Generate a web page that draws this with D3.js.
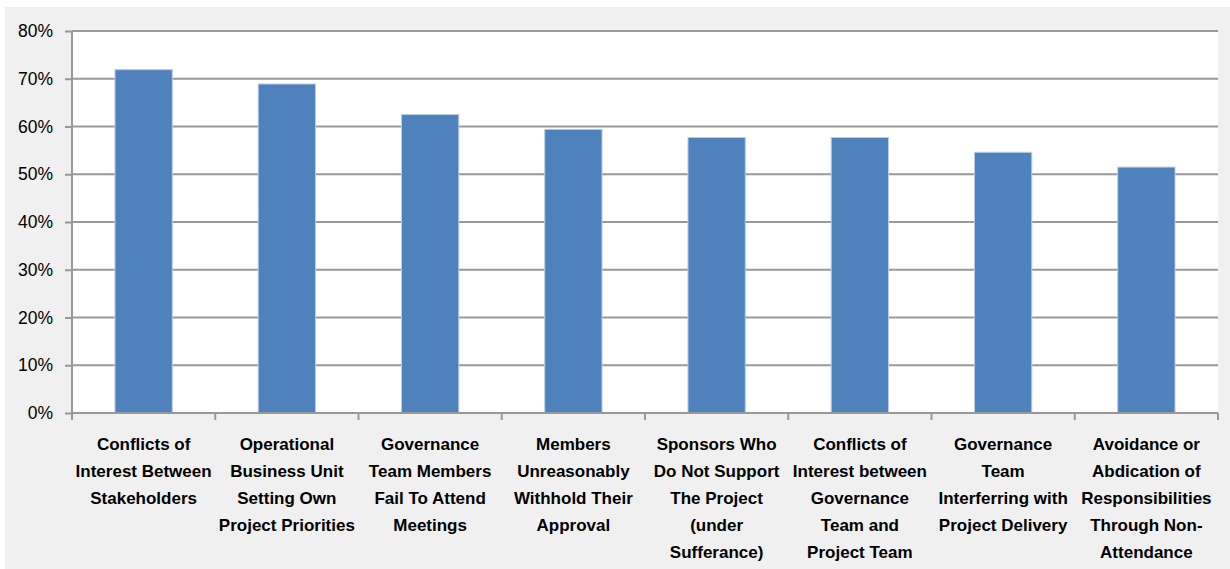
<!DOCTYPE html>
<html><head><meta charset="utf-8">
<script src="https://cdn.jsdelivr.net/npm/d3@7"></script>
<style>body{margin:0;background:#fff}svg{display:block}</style>
</head><body>
<script>
const categories = [
  ["Conflicts of","Interest Between","Stakeholders"],
  ["Operational","Business Unit","Setting Own","Project Priorities"],
  ["Governance","Team Members","Fail To Attend","Meetings"],
  ["Members","Unreasonably","Withhold Their","Approval"],
  ["Sponsors Who","Do Not Support","The Project","(under","Sufferance)"],
  ["Conflicts of","Interest between","Governance","Team and","Project Team"],
  ["Governance","Team","Interferring with","Project Delivery"],
  ["Avoidance or","Abdication of","Responsibilities","Through Non-","Attendance"]
];
const values = [0.719, 0.689, 0.625, 0.594, 0.577, 0.577, 0.546, 0.515];
const yTicks = [0,0.1,0.2,0.3,0.4,0.5,0.6,0.7,0.8];

const W=1230,H=569;
const svg=d3.select("body").append("svg").attr("width",W).attr("height",H);
svg.append("rect").attr("x",5).attr("y",7).attr("width",W-5).attr("height",H-7).attr("fill","#f0f0f0");
const L=72,R=1218,T=31,B=413;
svg.append("rect").attr("x",L).attr("y",T).attr("width",R-L).attr("height",B-T).attr("fill","#fff");

const idx=d3.range(categories.length);
const x=d3.scaleBand().domain(idx).range([L,R]).paddingInner(0.6).paddingOuter(0.3);
const y=d3.scaleLinear().domain([0,0.8]).range([B,T]);

// gridlines
svg.append("g").selectAll("line").data(yTicks.filter(d=>d>0)).join("line")
  .attr("x1",L).attr("x2",R).attr("y1",d=>y(d)).attr("y2",d=>y(d))
  .attr("stroke","#999").attr("stroke-width",2);

// bars
svg.append("g").selectAll("rect").data(values).join("rect")
  .attr("x",(d,i)=>x(i)).attr("width",x.bandwidth())
  .attr("y",d=>y(d)).attr("height",d=>B-y(d))
  .attr("fill","#4f81bd").attr("stroke","#b9cde5").attr("stroke-width",1);

// y axis
const ya=svg.append("g").attr("transform",`translate(${L},0)`)
  .call(d3.axisLeft(y).tickValues(yTicks).tickFormat(d3.format(".0%")).tickSize(7).tickPadding(12));
ya.select(".domain").attr("stroke","#999").attr("stroke-width",2).attr("d",`M0,${T}V${B}`);
ya.selectAll(".tick line").attr("stroke","#999").attr("stroke-width",2);
ya.selectAll(".tick text").attr("font-family","'Liberation Sans',Arial,sans-serif").attr("font-size",17.5).attr("fill","#000");

// x axis baseline and ticks
const bounds=d3.range(categories.length+1).map(i=>L+i*x.step());
svg.append("line").attr("x1",L).attr("x2",R).attr("y1",B).attr("y2",B).attr("stroke","#999").attr("stroke-width",2);
svg.append("g").selectAll("line").data(bounds).join("line")
  .attr("x1",d=>d).attr("x2",d=>d).attr("y1",B).attr("y2",B+7)
  .attr("stroke","#999").attr("stroke-width",2);

// category labels
const lg=svg.append("g").attr("font-family","'Liberation Sans',Arial,sans-serif").attr("font-weight","bold").attr("font-size",17).attr("text-anchor","middle").attr("fill","#000");
categories.forEach((lines,i)=>{
  const cx=x(i)+x.bandwidth()/2;
  const t=lg.append("text").attr("x",cx).attr("y",450);
  lines.forEach((s,j)=>t.append("tspan").attr("x",cx).attr("y",450+j*27).text(s));
});
</script>
</body></html>
